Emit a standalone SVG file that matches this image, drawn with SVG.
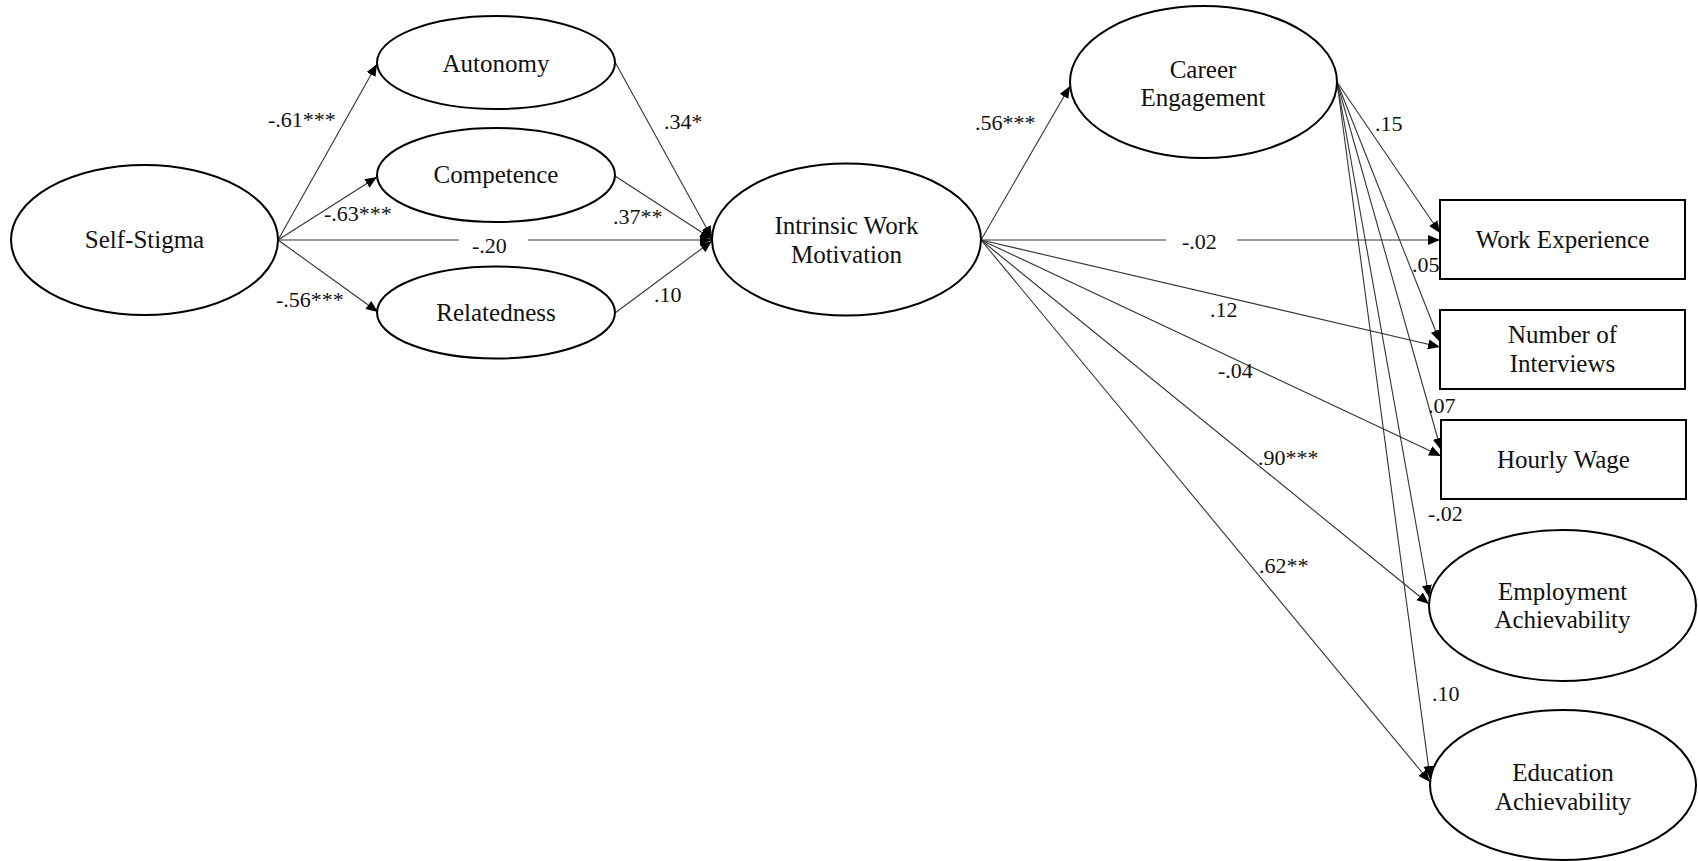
<svg xmlns="http://www.w3.org/2000/svg" width="1698" height="861" viewBox="0 0 1698 861">
<style>
.node{fill:#fff;stroke:#000;stroke-width:2}
.lbl{font-family:"Liberation Serif","Times New Roman",serif;font-size:25px;fill:#111;text-anchor:middle}
.num{font-family:"Liberation Serif","Times New Roman",serif;font-size:22px;fill:#111}
.edge{fill:none;stroke:#333;stroke-width:1.1;marker-end:url(#arr)}
</style>
<defs>
<marker id="arr" markerUnits="userSpaceOnUse" markerWidth="13" markerHeight="11" refX="12" refY="5" orient="auto">
<path d="M0,0 L12,5 L0,10 z" fill="#000"/>
</marker>
</defs>
<rect width="1698" height="861" fill="#fff"/>
<g id="connectors">
<path class="edge" d="M278,240 L377,64"/>
<path class="edge" d="M278,240 L377,177"/>
<path class="edge" d="M278,240 L378,312"/>
<path class="edge" d="M278,240 H459 M528,240 H712"/>
<path class="edge" d="M615,62 L712,238"/>
<path class="edge" d="M615,176 L712,239"/>
<path class="edge" d="M615,313 L712,241"/>
<path class="edge" d="M981,240 L1070,86"/>
<path class="edge" d="M981,240 H1166 M1237,240 H1440"/>
<path class="edge" d="M981,240 L1440,347"/>
<path class="edge" d="M981,240 L1441,456"/>
<path class="edge" d="M981,240 L1429,604"/>
<path class="edge" d="M981,240 L1430,782"/>
<path class="edge" d="M1337,82 L1440,233"/>
<path class="edge" d="M1337,82 L1440,342"/>
<path class="edge" d="M1337,82 L1441,450"/>
<path class="edge" d="M1337,82 L1429,597"/>
<path class="edge" d="M1337,82 L1430,778"/>
</g>
<g id="labels">
<text class="num" x="268" y="127">-.61***</text>
<text class="num" x="324" y="221">-.63***</text>
<text class="num" x="472" y="253">-.20</text>
<text class="num" x="276" y="307">-.56***</text>
<text class="num" x="664" y="129">.34*</text>
<text class="num" x="613" y="224">.37**</text>
<text class="num" x="654" y="302">.10</text>
<text class="num" x="975" y="130">.56***</text>
<text class="num" x="1182" y="249">-.02</text>
<text class="num" x="1210" y="317">.12</text>
<text class="num" x="1218" y="378">-.04</text>
<text class="num" x="1258" y="465">.90***</text>
<text class="num" x="1259" y="573">.62**</text>
<text class="num" x="1375" y="131">.15</text>
<text class="num" x="1412" y="272">.05</text>
<text class="num" x="1428" y="413">.07</text>
<text class="num" x="1428" y="521">-.02</text>
<text class="num" x="1432" y="701">.10</text>
</g>
<g id="self-stigma"><ellipse class="node" cx="144.5" cy="240" rx="133.5" ry="75"/><text class="lbl" x="144.5" y="248">Self-Stigma</text></g>
<g id="autonomy"><ellipse class="node" cx="496" cy="62.5" rx="119" ry="46.5"/><text class="lbl" x="496" y="72">Autonomy</text></g>
<g id="competence"><ellipse class="node" cx="496" cy="175" rx="119" ry="47"/><text class="lbl" x="496" y="183">Competence</text></g>
<g id="relatedness"><ellipse class="node" cx="496" cy="312.5" rx="119" ry="46"/><text class="lbl" x="496" y="321">Relatedness</text></g>
<g id="intrinsic"><ellipse class="node" cx="846.5" cy="239.5" rx="134.5" ry="76"/><text class="lbl" x="846.5" y="234">Intrinsic Work</text><text class="lbl" x="846.5" y="263">Motivation</text></g>
<g id="career"><ellipse class="node" cx="1203.5" cy="82" rx="133.5" ry="76"/><text class="lbl" x="1203" y="78">Career</text><text class="lbl" x="1203" y="106">Engagement</text></g>
<g id="work-experience"><rect class="node" x="1440" y="200" width="245" height="79"/><text class="lbl" x="1562.5" y="248">Work Experience</text></g>
<g id="interviews"><rect class="node" x="1440" y="310" width="245" height="79"/><text class="lbl" x="1562.5" y="343">Number of</text><text class="lbl" x="1562.5" y="372">Interviews</text></g>
<g id="hourly-wage"><rect class="node" x="1441" y="420" width="245" height="79"/><text class="lbl" x="1563.5" y="468">Hourly Wage</text></g>
<g id="employment"><ellipse class="node" cx="1562.5" cy="605.5" rx="133.5" ry="75.5"/><text class="lbl" x="1562.5" y="600">Employment</text><text class="lbl" x="1562.5" y="628">Achievability</text></g>
<g id="education"><ellipse class="node" cx="1563" cy="785" rx="133" ry="75"/><text class="lbl" x="1563" y="781">Education</text><text class="lbl" x="1563" y="810">Achievability</text></g>
</svg>
